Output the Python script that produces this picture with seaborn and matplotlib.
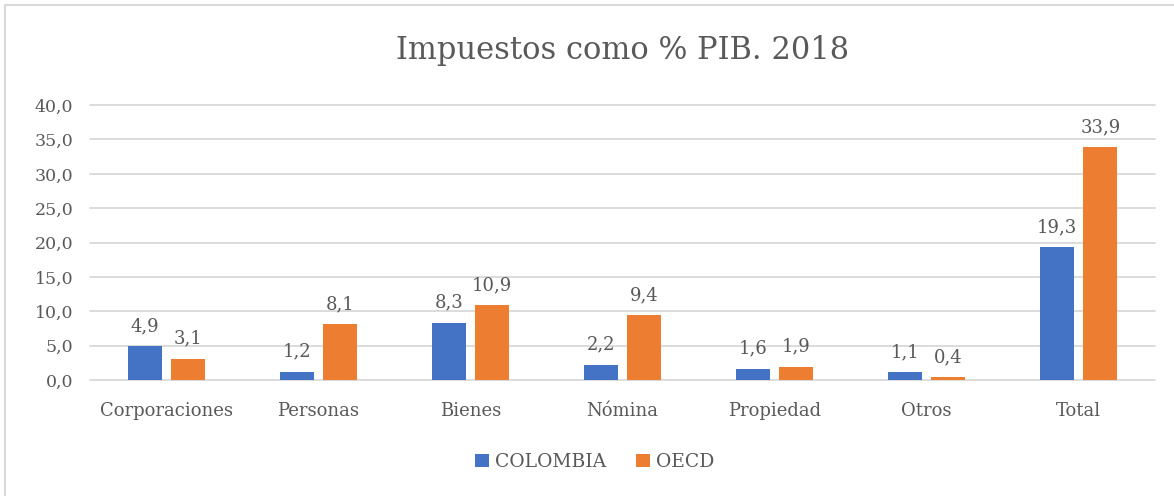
import pandas as pd
import seaborn as sns
import matplotlib.pyplot as plt
from matplotlib.patches import Rectangle

# Data
categorias = ['Corporaciones', 'Personas', 'Bienes', 'Nómina', 'Propiedad', 'Otros', 'Total']
colombia = [4.9, 1.2, 8.3, 2.2, 1.6, 1.1, 19.3]
oecd = [3.1, 8.1, 10.9, 9.4, 1.9, 0.4, 33.9]
series = ['COLOMBIA', 'OECD']
colores = ['#4472C4', '#ED7D31']
yticks = [0, 5, 10, 15, 20, 25, 30, 35, 40]

df = pd.DataFrame({'categoria': categorias * 2,
                   'valor': colombia + oecd,
                   'serie': [series[0]] * len(categorias) + [series[1]] * len(categorias)})

sns.set_style('white')
plt.rcParams['font.family'] = ['DejaVu Serif', 'DejaVu Sans']
gris = '#595959'

fig = plt.figure(figsize=(11.74, 4.96), dpi=100)
ax = fig.add_axes([0.0767, 0.234, 0.907, 0.554])

sns.barplot(data=df, x='categoria', y='valor', hue='serie', palette=colores,
            width=0.566, gap=0.21, saturation=1, linewidth=0, ax=ax, legend=True)

# Data labels with comma decimals
for cont in ax.containers:
    vals = [b.get_height() for b in cont]
    ax.bar_label(cont, labels=[f'{v:.1f}'.replace('.', ',') for v in vals],
                 padding=8, fontsize=13, color=gris)

ax.set_ylim(0, 40)
ax.set_yticks(yticks)
ax.set_yticklabels([f'{t:.1f}'.replace('.', ',') for t in yticks], fontsize=12.5, color=gris)
ax.tick_params(axis='x', labelsize=13, colors=gris, length=0, pad=16)
ax.tick_params(axis='y', length=0, pad=12)
ax.set_xlabel('')
ax.set_ylabel('')
ax.yaxis.grid(True, color='#D9D9D9', linewidth=1.3)
for gl in ax.get_ygridlines():
    gl.set_clip_on(False)
ax.set_axisbelow(True)
for s in ax.spines.values():
    s.set_visible(False)

ax.set_title('Impuestos como % PIB. 2018', fontsize=22, color=gris, pad=33)

leg = ax.legend(loc='upper center', bbox_to_anchor=(0.474, -0.205), ncol=2, frameon=False,
                fontsize=13.5, handlelength=0.75, handleheight=0.75, handletextpad=0.3,
                columnspacing=1.6)
for t in leg.get_texts():
    t.set_color(gris)

fig.patches.append(Rectangle((0.004, -0.02), 1.5, 1.01, transform=fig.transFigure,
                             fill=False, edgecolor='#D9D9D9', linewidth=1.5))

fig.savefig('out.png', dpi=100)
